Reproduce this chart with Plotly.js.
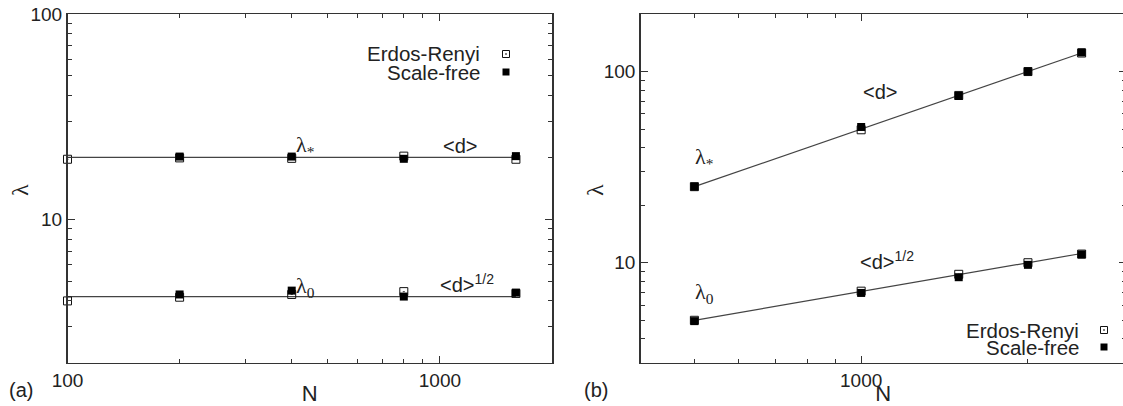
<!DOCTYPE html>
<html>
<head>
<meta charset="utf-8">
<script src="https://cdn.plot.ly/plotly-3.0.1.min.js"></script>
<style>
  html, body { margin: 0; padding: 0; overflow: hidden; background: #fff; }
  #chart { width: 1130px; height: 406px; }
</style>
</head>
<body>
<div id="chart"></div>
<script>
// ---------- data, panel (a) ----------
const nA_er = [100, 200, 400, 800, 1600];
const nA_sf = [200, 400, 800, 1600];
const erA_star = [19.6, 19.9, 19.8, 20.3, 19.6];
const sfA_star = [20.2, 20.2, 19.7, 20.3];
const erA_zero = [4.0, 4.17, 4.3, 4.44, 4.35];
const sfA_zero = [4.3, 4.49, 4.2, 4.39];
const fitA_n = [100, 1600];
const fitA_star = [20, 20];
const fitA_zero = [4.2, 4.2];

// ---------- data, panel (b) ----------
const nB = [500, 1000, 1500, 2000, 2500];
const erB_star = [25, 49.6, 75, 100, 125];
const sfB_star = [25, 51.3, 74.5, 100, 126];
const erB_zero = [5.0, 7.1, 8.7, 10.0, 11.1];
const sfB_zero = [4.95, 6.95, 8.4, 9.75, 11.05];
const fitB_star = [25, 50, 75, 100, 125];
const fitB_zero = [5, 7.07, 8.66, 10, 11.18];

// ---------- tick labels ----------
const xTicksA = [100, 1000];
const xTickTextA = ['100', '1000'];
const xMinorA = [200, 300, 400, 500, 600, 700, 800, 900, 2000];
const yTicksA = [10, 100];
const yTickTextA = ['10', '100'];
const yMinorA = [2, 3, 4, 5, 6, 7, 8, 9, 20, 30, 40, 50, 60, 70, 80, 90];
const xTicksB = [1000];
const xTickTextB = ['1000'];
const xMinorB = [500, 600, 700, 800, 900, 2000];
const yTicksB = [10, 100];
const yTickTextB = ['10', '100'];
const yMinorB = [4, 5, 6, 7, 8, 9, 20, 30, 40, 50, 60, 70, 80, 90];

const legendNames = ['Erdos-Renyi', 'Scale-free'];

// ---------- geometry helpers ----------
const W = 1130, H = 406;
const fx = p => p / W;
const fy = p => 1 - p / H;

const SANS = 'Liberation Sans, Arial, sans-serif';
const SERIF = 'Liberation Serif, Times New Roman, serif';
const AX = '#333';
const TXT = '#222';

function lineTrace(x, y, xa, ya) {
  return { x: x, y: y, xaxis: xa, yaxis: ya, mode: 'lines', type: 'scatter',
    line: { color: '#444', width: 1.2 }, showlegend: false, hoverinfo: 'skip', cliponaxis: false };
}
function erTrace(x, y, xa, ya) {
  return { x: x, y: y, xaxis: xa, yaxis: ya, mode: 'markers', type: 'scatter',
    name: legendNames[0], showlegend: false, cliponaxis: false,
    marker: { symbol: 'square-open-dot', size: 8, color: '#111', line: { color: '#111', width: 1 } } };
}
function sfTrace(x, y, xa, ya) {
  return { x: x, y: y, xaxis: xa, yaxis: ya, mode: 'markers', type: 'scatter',
    name: legendNames[1], showlegend: false, cliponaxis: false,
    marker: { symbol: 'square', size: 8, color: '#000', line: { width: 0 } } };
}

const data = [
  lineTrace(fitA_n, fitA_star, 'x', 'y'),
  lineTrace(fitA_n, fitA_zero, 'x', 'y'),
  erTrace(nA_er, erA_star, 'x', 'y'),
  erTrace(nA_er, erA_zero, 'x', 'y'),
  sfTrace(nA_sf, sfA_star, 'x', 'y'),
  sfTrace(nA_sf, sfA_zero, 'x', 'y'),
  lineTrace(nB, fitB_star, 'x2', 'y2'),
  lineTrace(nB, fitB_zero, 'x2', 'y2'),
  erTrace(nB, erB_star, 'x2', 'y2'),
  erTrace(nB, erB_zero, 'x2', 'y2'),
  sfTrace(nB, sfB_star, 'x2', 'y2'),
  sfTrace(nB, sfB_zero, 'x2', 'y2')
];

function axisBase(extra) {
  return Object.assign({
    type: 'log', showline: true, linecolor: AX, linewidth: 1.5, mirror: 'allticks',
    ticks: 'inside', ticklen: 7, tickwidth: 1, tickcolor: AX,
    showgrid: false, zeroline: false, tickmode: 'array',
    tickfont: { family: SANS, size: 19, color: TXT },
  }, extra);
}

const yTop = fy(14), yBot = fy(362.7);

const layout = {
  width: W, height: H,
  margin: { l: 0, r: 0, t: 0, b: 0 },
  paper_bgcolor: '#fff', plot_bgcolor: '#fff',
  showlegend: false,
  xaxis: axisBase({
    domain: [fx(67.5), fx(552)], anchor: 'y',
    range: [Math.log10(100), Math.log10(2000)],
    tickvals: xTicksA, ticktext: xTickTextA,
    minor: { tickvals: xMinorA, ticks: 'inside', ticklen: 4, tickcolor: AX, showgrid: false },
    title: { text: 'N', font: { family: SANS, size: 22, color: TXT }, standoff: 0 }
  }),
  yaxis: axisBase({
    domain: [yBot, yTop], anchor: 'x',
    range: [Math.log10(2), Math.log10(100)],
    tickvals: yTicksA, ticktext: yTickTextA,
    minor: { tickvals: yMinorA, ticks: 'inside', ticklen: 4, tickcolor: AX, showgrid: false }
  }),
  xaxis2: axisBase({
    domain: [fx(640.7), fx(1125.5)], anchor: 'y2',
    range: [Math.log10(400), Math.log10(3000)],
    tickvals: xTicksB, ticktext: xTickTextB,
    minor: { tickvals: xMinorB, ticks: 'inside', ticklen: 4, tickcolor: AX, showgrid: false },
    title: { text: 'N', font: { family: SANS, size: 22, color: TXT }, standoff: 0 }
  }),
  yaxis2: axisBase({
    domain: [yBot, yTop], anchor: 'x2',
    range: [Math.log10(3), Math.log10(200)],
    tickvals: yTicksB, ticktext: yTickTextB,
    minor: { tickvals: yMinorB, ticks: 'inside', ticklen: 4, tickcolor: AX, showgrid: false }
  }),
  annotations: [],
  shapes: []
};

function ann(text, x, y, opts) {
  layout.annotations.push(Object.assign({
    text: text, xref: 'paper', yref: 'paper', x: fx(x), y: fy(y),
    xanchor: 'center', yanchor: 'middle', showarrow: false,
    font: { family: SANS, size: 20, color: TXT }
  }, opts || {}));
}

// y-axis titles
ann('λ', 20, 190, { textangle: -90, font: { family: SERIF, size: 24, color: TXT } });
ann('λ', 595, 190, { textangle: -90, font: { family: SERIF, size: 24, color: TXT } });

// panel letters
ann('(a)', 21, 390);
ann('(b)', 596, 390);

// curve labels panel (a)
ann('λ<sub>*</sub>', 305, 146, { font: { family: SERIF, size: 22, color: TXT } });
ann('<d>', 460, 146);
ann('λ<sub>0</sub>', 305, 287, { font: { family: SERIF, size: 22, color: TXT } });
ann('<d><sup>1/2</sup>', 467, 283);

// curve labels panel (b)
ann('λ<sub>*</sub>', 704, 158, { font: { family: SERIF, size: 22, color: TXT } });
ann('<d>', 880, 92);
ann('λ<sub>0</sub>', 704, 293, { font: { family: SERIF, size: 22, color: TXT } });
ann('<d><sup>1/2</sup>', 887, 260);

// legends (text right-aligned, symbol to the right, gnuplot style)
function legend(xText, xSym, y1, y2) {
  ann(legendNames[0], xText, y1, { xanchor: 'right', font: { family: SANS, size: 20.5, color: TXT } });
  ann(legendNames[1], xText, y2, { xanchor: 'right', font: { family: SANS, size: 20.5, color: TXT } });
  const s = 3.5;
  layout.shapes.push({ type: 'rect', xref: 'paper', yref: 'paper',
    x0: fx(xSym - s), x1: fx(xSym + s), y0: fy(y1 + s), y1: fy(y1 - s),
    line: { color: '#111', width: 1 }, fillcolor: 'rgba(0,0,0,0)' });
  layout.shapes.push({ type: 'rect', xref: 'paper', yref: 'paper',
    x0: fx(xSym - 0.7), x1: fx(xSym + 0.7), y0: fy(y1 + 0.7), y1: fy(y1 - 0.7),
    line: { width: 0 }, fillcolor: '#111' });
  layout.shapes.push({ type: 'rect', xref: 'paper', yref: 'paper',
    x0: fx(xSym - s), x1: fx(xSym + s), y0: fy(y2 + s), y1: fy(y2 - s),
    line: { width: 0 }, fillcolor: '#000' });
}
legend(482, 506, 54, 72);
legend(1081, 1104, 330, 347);

Plotly.newPlot('chart', data, layout, { staticPlot: true, displayModeBar: false });
</script>
</body>
</html>
